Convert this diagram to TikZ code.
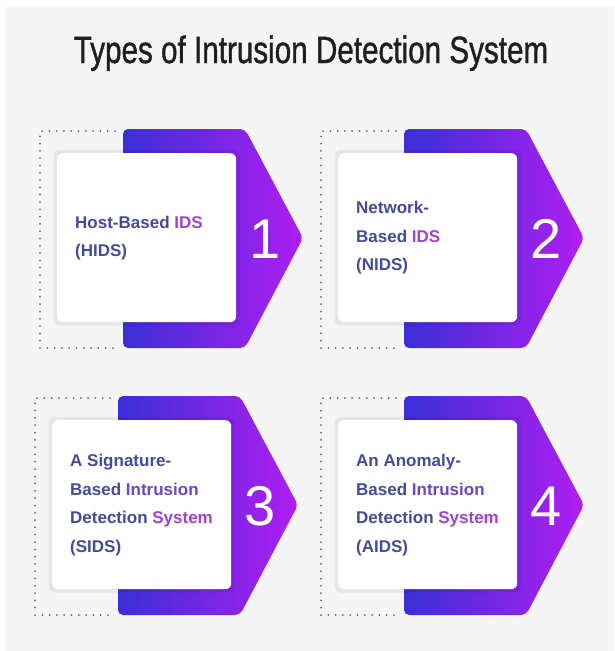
\documentclass[tikz,border=0pt]{standalone}
\usepackage{fontspec}
\setmainfont{Liberation Sans}
\newfontfamily\titlefont[FakeBold=1.2]{Liberation Sans}
\usetikzlibrary{shadows}

\definecolor{bggray}{HTML}{F5F5F5}
\definecolor{dotgray}{HTML}{5E6496}
\definecolor{arrowblue}{HTML}{3A2FD8}
\definecolor{arrowpurple}{HTML}{B01EF2}
\definecolor{txtblue}{HTML}{434C9C}
\definecolor{txtmid}{HTML}{6848C4}
\definecolor{txtpurple}{HTML}{A440DA}

\begin{document}
\begin{tikzpicture}[
	x=1pt, y=-1pt,
	titletext/.style = {font=\titlefont\fontsize{38}{44}\selectfont, text=black!88, inner sep=0pt},
	dotframe/.style  = {draw=dotgray, line width=2pt, line cap=round, dash pattern=on 0pt off 7.3pt},
	arrowshape/.style = {left color=arrowblue, right color=arrowpurple, rounded corners=5pt},
	card/.style      = {fill=white, rounded corners=6pt, minimum width=179pt, minimum height=169pt,
			    inner sep=0pt, anchor=north west,
			    general shadow={fill=black, opacity=0.06, shadow scale=1.04}},
	cardtext/.style  = {font=\bfseries\fontsize{17}{28.5}\selectfont, align=left, inner sep=0pt, anchor=west},
	numtext/.style   = {font=\fontsize{56}{56}\selectfont, text=white, inner sep=0pt},
]
	\useasboundingbox (0,0) rectangle (614,651);
	\fill [bggray] (5,7) rectangle (614,651);

	\node at (311,63) [titletext, anchor=base] (title) {\scalebox{0.78}[1]{Types of Intrusion Detection System}};

	\foreach \cx/\cy/\n/\txt in {
		57/153/1/{\textcolor{txtblue}{Host-Based} \textcolor{txtpurple}{IDS}\\\textcolor{txtblue}{(HIDS)}},
		338/153/2/{\textcolor{txtblue}{Network-}\\\textcolor{txtblue}{Based} \textcolor{txtpurple}{IDS}\\\textcolor{txtblue}{(NIDS)}},
		52/420/3/{\textcolor{txtblue}{A Signature-}\\\textcolor{txtblue}{Based} \textcolor{txtmid}{Intrusion}\\\textcolor{txtblue}{Detection} \textcolor{txtpurple}{System}\\\textcolor{txtblue}{(SIDS)}},
		338/420/4/{\textcolor{txtblue}{An Anomaly-}\\\textcolor{txtblue}{Based} \textcolor{txtmid}{Intrusion}\\\textcolor{txtblue}{Detection} \textcolor{txtpurple}{System}\\\textcolor{txtblue}{(AIDS)}}}{%
		\draw [dotframe] ({\cx+58},{\cy-22}) -- ({\cx-17},{\cy-22}) -- ({\cx-17},{\cy+195}) -- ({\cx+58},{\cy+195});
		\shade [arrowshape] ({\cx+66},{\cy-24}) -- ({\cx+188},{\cy-24}) -- ({\cx+246},{\cy+85})
			-- ({\cx+188},{\cy+195}) -- ({\cx+66},{\cy+195}) -- cycle;
		\node at (\cx,\cy) [card] (card\n) {};
		\node at ({\cx+18},{\cy+85}) [cardtext] (text\n) {\txt};
		\node at ({\cx+208},{\cy+86}) [numtext] (num\n) {\n};
	}
\end{tikzpicture}
\end{document}
